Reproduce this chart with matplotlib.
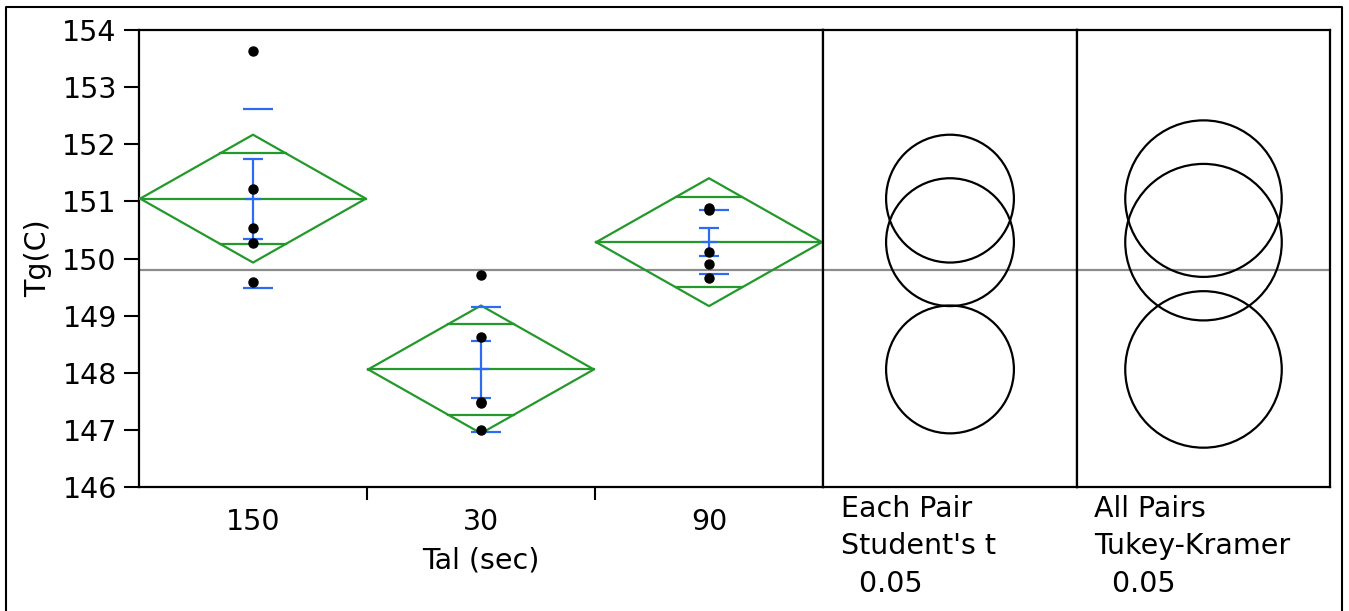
import matplotlib

matplotlib.use("Agg")
import matplotlib.pyplot as plt
import numpy as np
from matplotlib.lines import Line2D
from matplotlib.patches import Circle

# Tg(C) observations for each Tal (sec) level
levels = ["150", "30", "90"]
tg_150 = [153.64, 151.21, 150.53, 150.27, 149.59]
tg_30 = [149.71, 148.62, 147.49, 147.47, 147.00]
tg_90 = [150.89, 150.85, 150.12, 149.91, 149.66]
y_ticks = [146, 147, 148, 149, 150, 151, 152, 153, 154]

# critical values, alpha = 0.05, 12 error df
T_CRIT = 2.179  # Student's t
Q_CRIT = 3.773  # studentized range, k = 3

GREEN = "#22992a"
BLUE = "#2d6cf0"
FS = 20.5

W, H = 1349, 611
fig = plt.figure(figsize=(W / 100, H / 100), dpi=100)
plt.rcParams["font.family"] = "DejaVu Sans"


def box(left, top, right, bottom):
    return [left / W, 1 - bottom / H, (right - left) / W, (bottom - top) / H]


TOP, BOTTOM = 30, 487
ax = fig.add_axes(box(139, TOP, 823, BOTTOM))
ax_t = fig.add_axes(box(823, TOP, 1077, BOTTOM))
ax_k = fig.add_axes(box(1077, TOP, 1330, BOTTOM))

groups = [np.array(g) for g in (tg_150, tg_30, tg_90)]
n = len(groups[0])
means = [g.mean() for g in groups]
sds = [g.std(ddof=1) for g in groups]
ses = [s / np.sqrt(n) for s in sds]
pooled_se = np.sqrt(np.mean([s ** 2 for s in sds])) / np.sqrt(n)
ci = T_CRIT * pooled_se
tukey_r = Q_CRIT / np.sqrt(2) * pooled_se
grand_mean = np.concatenate(groups).mean()

hw = 0.495  # diamond half width
frac = 1 - 1 / np.sqrt(2)
for i, (g, m, sd, se) in enumerate(zip(groups, means, sds, ses)):
    # means diamond with overlap marks
    ax.plot([i - hw, i, i + hw, i, i - hw], [m, m + ci, m, m - ci, m],
            color=GREEN, lw=1.6, zorder=3)
    ax.plot([i - hw, i + hw], [m, m], color=GREEN, lw=1.6, zorder=3)
    for s in (1, -1):
        ax.plot([i - hw * frac, i + hw * frac], [m + s * ci / np.sqrt(2)] * 2,
                color=GREEN, lw=1.6, zorder=3)
    # std dev lines and std error bar
    ax.hlines([m - sd, m + sd], i - 0.044, i + 0.088, color=BLUE, lw=1.6, zorder=4)
    ax.vlines(i, m - se, m + se, color=BLUE, lw=1.6, zorder=4)
    ax.hlines([m - se, m + se], i - 0.044, i + 0.044, color=BLUE, lw=1.6, zorder=4)
    ax.hlines(m, i - 0.035, i + 0.035, color=BLUE, lw=1.6, zorder=4)
    ax.plot(np.full(n, i), g, "o", color="black", ms=6.5, zorder=5)

ax.set_xlim(-0.5, 2.5)
ax.set_ylim(146, 154)
ax.set_yticks(y_ticks)
ax.set_xticks(range(len(levels)))
ax.set_xticklabels(levels)
ax.set_xticks([0.5, 1.5], minor=True)
ax.tick_params(axis="x", which="major", length=0, pad=15, labelsize=FS)
ax.tick_params(axis="x", which="minor", length=9, width=1.5)
ax.tick_params(axis="y", length=11, width=1.5, pad=5, labelsize=FS)
ax.set_xlabel("Tal (sec)", fontsize=FS, labelpad=8)
ax.set_ylabel("Tg(C)", fontsize=FS, labelpad=7)

# comparison circles, equal scale in x and y
px_per_unit = (BOTTOM - TOP) / (154 - 146)
for a, width_px, radius in ((ax_t, 254, ci), (ax_k, 253, tukey_r)):
    half = width_px / 2 / px_per_unit
    a.set_xlim(-half, half)
    a.set_ylim(146, 154)
    for m in means:
        a.add_patch(Circle((0, m), radius, fill=False, ec="black", lw=1.6, zorder=3))
    a.set_xticks([])
    a.set_yticks([])

for a in (ax, ax_t, ax_k):
    a.axhline(grand_mean, color="#8c8c8c", lw=1.6, zorder=1)
    for sp in a.spines.values():
        sp.set_linewidth(1.6)

captions = [
    (841, ["Each Pair", "Student's t", "  0.05"]),
    (1094, ["All Pairs", "Tukey-Kramer", "  0.05"]),
]
for x, lines in captions:
    for y, text in zip((517, 554, 592), lines):
        fig.text(x / W, 1 - y / H, text, fontsize=FS, va="baseline", ha="left")

# outer report frame
fig.add_artist(Line2D([6 / W, 6 / W, 1342 / W, 1342 / W], [0, 1 - 7 / H, 1 - 7 / H, 0],
                      transform=fig.transFigure, color="black", lw=1.5))

fig.savefig("out.png", dpi=100)
